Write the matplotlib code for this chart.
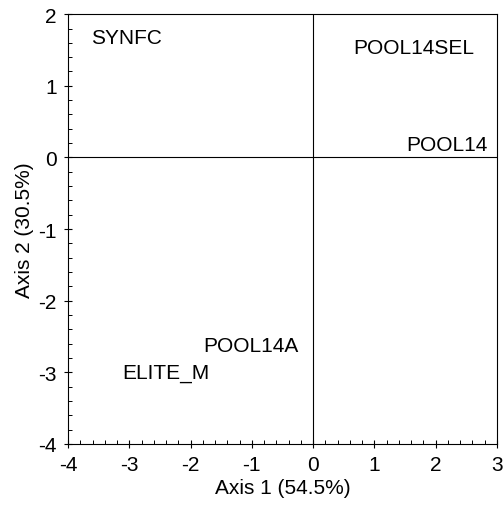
import matplotlib
matplotlib.use('Agg')
import matplotlib.pyplot as plt
from matplotlib.ticker import MultipleLocator

plt.rcParams['font.family'] = ['Liberation Sans', 'DejaVu Sans']
plt.rcParams['axes.unicode_minus'] = False

# group labels and their positions on the two axes
names = ['SYNFC', 'POOL14SEL', 'POOL14', 'POOL14A', 'ELITE_M']
axis1 = [-3.05, 1.65, 2.19, -1.01, -2.40]
axis2 = [1.67, 1.53, 0.18, -2.62, -3.00]

fig = plt.figure(figsize=(5.04, 5.06), dpi=100)
ax = fig.add_axes([0.135, 0.1206, 0.851, 0.8494])

for n, x, y in zip(names, axis1, axis2):
    ax.text(x, y, n, ha='center', va='center', fontsize=15)

ax.axhline(0, color='black', lw=0.8)
ax.axvline(0, color='black', lw=0.8)

ax.set_xlim(-4, 3)
ax.set_ylim(-4, 2)
ax.xaxis.set_major_locator(MultipleLocator(1))
ax.yaxis.set_major_locator(MultipleLocator(1))
ax.xaxis.set_minor_locator(MultipleLocator(0.2))
ax.yaxis.set_minor_locator(MultipleLocator(0.2))
ax.tick_params(which='major', direction='inout', length=6, width=0.8, labelsize=15, pad=5)
ax.tick_params(which='minor', direction='in', length=3, width=0.7)
for s in ax.spines.values():
    s.set_linewidth(0.8)

ax.set_xlabel('Axis 1 (54.5%)', fontsize=15, labelpad=3)
ax.set_ylabel('Axis 2 (30.5%)', fontsize=15, labelpad=3)

fig.savefig('out.png', dpi=100)
